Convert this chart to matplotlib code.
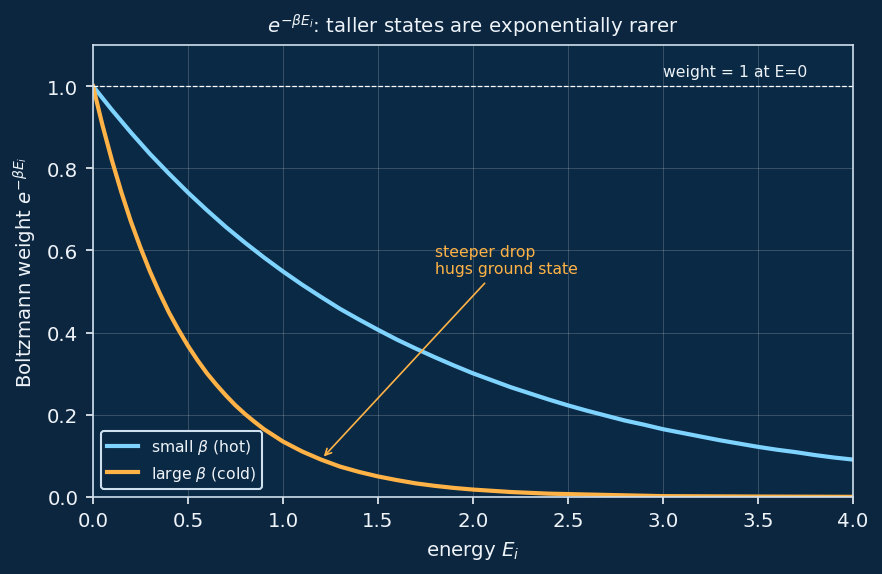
'''
Boltzmann weights for a hot and a cold system
'''
import matplotlib
matplotlib.use("Agg")
import matplotlib.pyplot as plt

# values
E_hot = [0.0, 0.1, 0.2, 0.3, 0.4, 0.5, 0.6, 0.7, 0.8, 0.9, 1.0,
         1.1, 1.2, 1.3, 1.4, 1.5, 1.6, 1.7, 1.8, 1.9, 2.0,
         2.1, 2.2, 2.3, 2.4, 2.5, 2.6, 2.7, 2.8, 2.9, 3.0,
         3.1, 3.2, 3.3, 3.4, 3.5, 3.6, 3.7, 3.8, 3.9, 4.0]
w_hot = [1.0, 0.942, 0.887, 0.835, 0.787, 0.741, 0.698, 0.657, 0.619, 0.583, 0.549,
         0.517, 0.487, 0.458, 0.432, 0.407, 0.383, 0.361, 0.340, 0.320, 0.301,
         0.284, 0.267, 0.252, 0.237, 0.223, 0.210, 0.198, 0.186, 0.176, 0.165,
         0.156, 0.147, 0.138, 0.130, 0.122, 0.115, 0.109, 0.102, 0.096, 0.091]

E_cold = [0.0, 0.05, 0.1, 0.15, 0.2, 0.25, 0.3, 0.35, 0.4, 0.45, 0.5,
          0.55, 0.6, 0.65, 0.7, 0.75, 0.8, 0.85, 0.9, 0.95,
          1.0, 1.1, 1.2, 1.3, 1.4, 1.5, 1.6, 1.7, 1.8, 1.9, 2.0,
          2.2, 2.4, 2.6, 2.8, 3.0, 3.5, 4.0]
w_cold = [1.0, 0.905, 0.819, 0.741, 0.670, 0.607, 0.549, 0.497, 0.449, 0.407, 0.368,
          0.333, 0.301, 0.273, 0.247, 0.223, 0.202, 0.183, 0.165, 0.150,
          0.135, 0.111, 0.091, 0.074, 0.061, 0.050, 0.041, 0.033, 0.027, 0.022, 0.018,
          0.012, 0.008, 0.006, 0.004, 0.002, 0.001, 0.0003]

xticks = [0.0, 0.5, 1.0, 1.5, 2.0, 2.5, 3.0, 3.5, 4.0]
yticks = [0.0, 0.2, 0.4, 0.6, 0.8, 1.0]

fig_bg = "#0c2640"
ax_bg = "#0a2944"
fg = "#eef3f8"
c_hot = "#7fd3ff"
c_cold = "#ffb347"

fig = plt.figure(figsize=(5.88, 3.833), dpi=150, facecolor=fig_bg)
ax = fig.add_axes([0.1054, 0.134, 0.8616, 0.786])
ax.set_facecolor(ax_bg)

ax.plot(E_hot, w_hot, color=c_hot, lw=2, label=r"small $\beta$ (hot)")
ax.plot(E_cold, w_cold, color=c_cold, lw=2, label=r"large $\beta$ (cold)")
ax.axhline(1.0, color="white", lw=0.6, ls="--")
ax.text(3.0, 1.025, "weight = 1 at E=0", color=fg, fontsize=7.5)

ax.annotate("steeper drop\nhugs ground state", xy=(1.2, 0.091), xytext=(1.8, 0.545),
            color=c_cold, fontsize=7.5,
            arrowprops=dict(arrowstyle="->", color=c_cold, lw=0.8))

ax.set_xlim(0, 4)
ax.set_ylim(0, 1.1)
ax.set_xticks(xticks)
ax.set_yticks(yticks)
ax.grid(True, color="white", alpha=0.18, lw=0.5)
ax.tick_params(colors=fg, labelsize=9.5)
for s in ax.spines.values():
    s.set_color("#cfe0ee")

ax.set_xlabel(r"energy $E_i$", color=fg, fontsize=9.5)
ax.set_ylabel(r"Boltzmann weight $e^{-\beta E_i}$", color=fg, fontsize=9.5)
ax.set_title(r"$e^{-\beta E_i}$: taller states are exponentially rarer", color=fg, fontsize=9.5)

leg = ax.legend(loc="lower left", fontsize=7.5, facecolor=ax_bg, edgecolor="#cfe0ee", framealpha=1)
for t in leg.get_texts():
    t.set_color(fg)

fig.savefig("out.png", facecolor=fig_bg)
